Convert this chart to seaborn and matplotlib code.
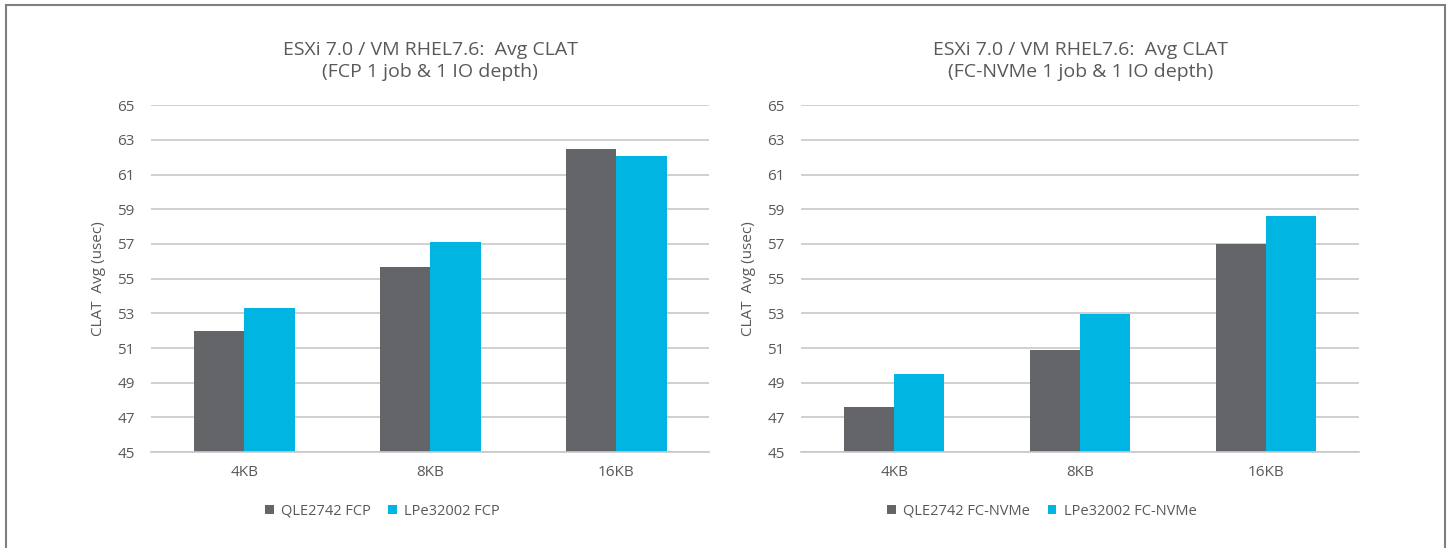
import seaborn as sns
import matplotlib.pyplot as plt
import pandas as pd
from matplotlib.patches import Rectangle

sizes = ["4KB", "8KB", "16KB"]
fcp_qle = [52.0, 55.7, 62.45]
fcp_lpe = [53.3, 57.1, 62.1]
nvme_qle = [47.6, 50.9, 57.0]
nvme_lpe = [49.5, 52.95, 58.6]
fcp_names = ["QLE2742 FCP", "LPe32002 FCP"]
nvme_names = ["QLE2742 FC-NVMe", "LPe32002 FC-NVMe"]
yticks = list(range(45, 66, 2))

sns.set_style("white")
plt.rcParams["font.family"] = ["Open Sans", "DejaVu Sans"]
txt = "#595959"
colors = ["#636569", "#00B5E2"]

fig = plt.figure(figsize=(14.49, 5.48), dpi=100)
fig.patches.append(Rectangle((0.004, -0.01), 0.993, 1.0, transform=fig.transFigure,
                             fill=False, edgecolor="#7f7f7f", linewidth=1.5))

panels = [
    (0.1045, fcp_qle, fcp_lpe, fcp_names, "ESXi 7.0 / VM RHEL7.6:  Avg CLAT\n(FCP 1 job & 1 IO depth)", 0.264),
    (0.553, nvme_qle, nvme_lpe, nvme_names, "ESXi 7.0 / VM RHEL7.6:  Avg CLAT\n(FC-NVMe 1 job & 1 IO depth)", 0.719),
]

for left, a, b, names, title, legx in panels:
    ax = fig.add_axes([left, 0.175, 0.385, 0.633])
    df = pd.DataFrame({
        "size": sizes * 2,
        "val": a + b,
        "card": [names[0]] * 3 + [names[1]] * 3,
    })
    sns.barplot(data=df, x="size", y="val", hue="card", palette=colors,
                width=0.54, saturation=1, linewidth=0, ax=ax, legend=True)
    ax.set_ylim(45, 65)
    ax.set_yticks(yticks)
    ax.set_xlim(-0.5, 2.5)
    ax.yaxis.grid(True, color="#c8c8cc", linewidth=1.2)
    ax.set_axisbelow(True)
    for s in ["top", "right", "left"]:
        ax.spines[s].set_visible(False)
    ax.spines["bottom"].set_color("#c8c8cc")
    ax.spines["bottom"].set_linewidth(1.2)
    ax.tick_params(axis="both", length=0, labelsize=11, colors=txt)
    ax.tick_params(axis="y", pad=12)
    ax.tick_params(axis="x", pad=9)
    ax.set_xlabel("")
    ax.set_ylabel("CLAT  Avg (usec)", fontsize=11, color=txt, labelpad=8)
    ax.set_title(title, fontsize=14, color=txt, pad=20, linespacing=1.3)
    h, l = ax.get_legend_handles_labels()
    ax.get_legend().remove()
    fig.legend(h, l, loc="center", bbox_to_anchor=(legx, 0.067), ncol=2, frameon=False,
               fontsize=10.5, labelcolor=txt, handlelength=0.6, handleheight=0.6,
               handletextpad=0.5, columnspacing=1.2)

fig.savefig("out.png", dpi=100)
